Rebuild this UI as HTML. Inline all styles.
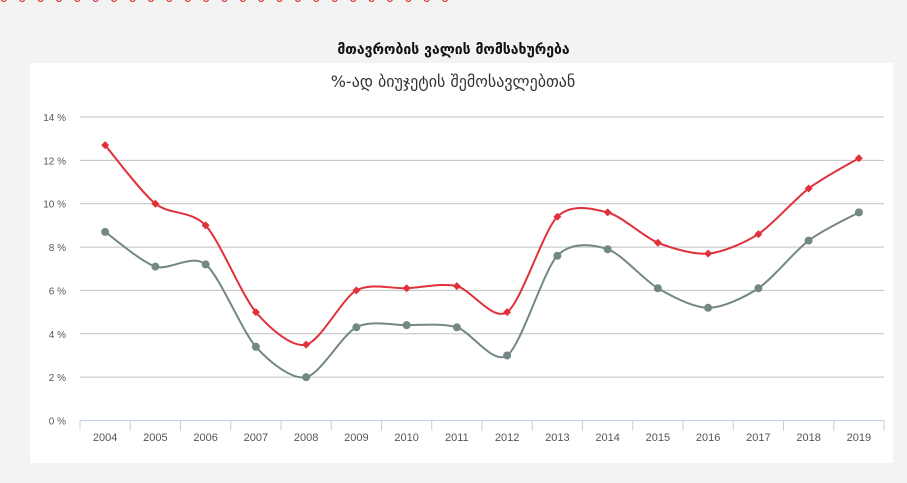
<!DOCTYPE html>
<html><head><meta charset="utf-8"><style>
body{margin:0;width:907px;height:483px;overflow:hidden;background:#f3f3f3;font-family:"Liberation Sans","DejaVu Sans",sans-serif}
#panel{position:absolute;left:30px;top:63px;width:863px;height:400px;background:#fff}
</style></head><body>
<div style="position:absolute;left:0;top:-12px;color:#e03030;font-size:15px;font-family:'DejaVu Sans',sans-serif;letter-spacing:3px">ა ა ა ა ა ა ა ა ა ა ა ა ა ა ა ა ა ა ა ა ა ა ა ა ა</div>
<div style="position:absolute;left:0;width:907px;top:42px;text-align:center;font-weight:bold;font-size:14px;font-family:'DejaVu Sans',sans-serif;color:#111">მთავრობის ვალის მომსახურება</div>
<div id="panel"></div>
<svg id="c" width="907" height="483" style="position:absolute;left:0;top:0">
<text x="453" y="87" text-anchor="middle" font-size="16" fill="#333" font-family="DejaVu Sans, sans-serif">%-ად ბიუჯეტის შემოსავლებთან</text>
</svg>
<script>
const years=["2004","2005","2006","2007","2008","2009","2010","2011","2012","2013","2014","2015","2016","2017","2018","2019"];
const redSeries=[12.7,10.0,9.0,5.0,3.5,6.0,6.1,6.2,5.0,9.4,9.6,8.2,7.7,8.6,10.7,12.1];
const graySeries=[8.7,7.1,7.2,3.4,2.0,4.3,4.4,4.3,3.0,7.6,7.9,6.1,5.2,6.1,8.3,9.6];
const yTicks=[0,2,4,6,8,10,12,14];
const svg=document.getElementById('c');const NS='http://www.w3.org/2000/svg';
const X0=80,X1=884,Y0=420.5,Y14=117;
const bw=(X1-X0)/years.length;
const xs=i=>X0+bw*(i+0.5);
const ys=v=>Y0-(Y0-Y14)*v/14;
function mk(t,a,p){const e=document.createElementNS(NS,t);for(const k in a)e.setAttribute(k,a[k]);(p||svg).appendChild(e);return e;}
yTicks.forEach(v=>{
 const l=mk('line',{x1:X0,x2:X1,y1:ys(v),y2:ys(v),stroke:v===0?'#c0d0e0':'#c0c0c0','stroke-width':1});
 
 
 const t=mk('text',{x:66,y:ys(v)+4,'text-anchor':'end','font-size':10,fill:'#555'});t.textContent=v+' %';
 
 
});
for(let i=0;i<=years.length;i++){
 const l=mk('line',{x1:X0+bw*i,x2:X0+bw*i,y1:Y0,y2:Y0+10,stroke:'#c0d0e0'});
 
 
}
years.forEach((y,i)=>{const t=mk('text',{x:xs(i),y:441,'text-anchor':'middle','font-size':11,fill:'#555'});t.textContent=y;
 
 });
function path(vals){
 const p=vals.map((v,i)=>[xs(i),ys(v)]);let d='M'+p[0][0]+','+p[0][1];
 for(let i=0;i<p.length-1;i++){
  const p0=p[i-1]||p[i],p1=p[i],p2=p[i+1],p3=p[i+2]||p2;
  const t=0.14;
  const c1=[p1[0]+(p2[0]-p0[0])*t,p1[1]+(p2[1]-p0[1])*t];
  const c2=[p2[0]-(p3[0]-p1[0])*t,p2[1]-(p3[1]-p1[1])*t];
  d+=' C'+c1+' '+c2+' '+p2;
 }return d;}
const g1=mk('path',{d:path(graySeries),fill:'none',stroke:'#738785','stroke-width':2});


const r1=mk('path',{d:path(redSeries),fill:'none',stroke:'#e0313b','stroke-width':2});


graySeries.forEach((v,i)=>{const c=mk('circle',{cx:xs(i),cy:ys(v),r:4,fill:'#738785'});
 
 });
redSeries.forEach((v,i)=>{const x=xs(i),y=ys(v);const c=mk('path',{d:`M${x},${y-4}L${x+4},${y}L${x},${y+4}L${x-4},${y}Z`,fill:'#e0313b'});
 
 });
</script>
</body></html>
